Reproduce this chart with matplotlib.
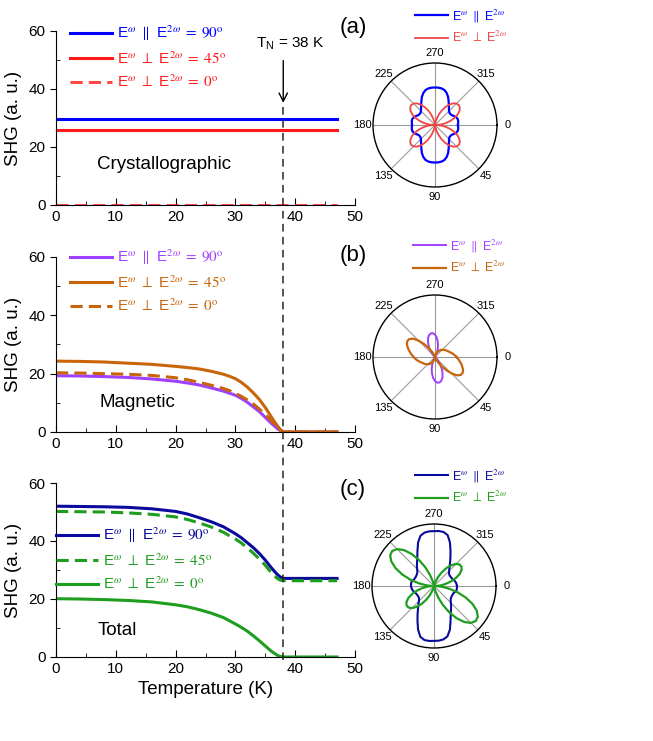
import numpy as np
import matplotlib
matplotlib.use('Agg')
import matplotlib.pyplot as plt
from matplotlib import transforms
from matplotlib.lines import Line2D

plt.rcParams['font.family'] = ['Liberation Sans', 'DejaVu Sans']
plt.rcParams['mathtext.fontset'] = 'stix'

# ---- temperature dependence (K, a.u.) ----
temp = [0, 4, 8, 12, 16, 20, 22, 24, 26, 28, 29, 30, 31, 32, 33, 34, 35, 36, 36.5, 37, 37.5, 38, 47]
temp_flat = [0, 47]

crys_par = [29.7, 29.7]
crys_perp45 = [25.7, 25.7]
crys_perp0 = [0.0, 0.0]

mag_par = [19.3, 19.2, 19.0, 18.7, 18.2, 17.4, 16.8, 16.1, 15.1, 14.0, 13.3, 12.6, 11.5,
           10.2, 8.6, 7.0, 5.0, 3.0, 2.1, 1.2, 0.5, 0.0, 0.0]
mag_perp45 = [24.3, 24.2, 24.0, 23.6, 23.2, 22.5, 22.1, 21.6, 20.8, 19.8, 19.1, 18.3, 17.0,
              15.4, 13.4, 11.2, 8.4, 5.2, 3.6, 2.2, 0.8, 0.0, 0.0]
mag_perp0 = [20.3, 20.2, 20.0, 19.8, 19.4, 18.6, 17.9, 17.0, 16.0, 14.9, 14.2, 13.3, 12.2,
             11.0, 9.6, 7.9, 6.0, 3.9, 2.8, 1.8, 0.8, 0.0, 0.0]

tot_par = [52.0, 51.9, 51.8, 51.6, 51.1, 50.2, 49.3, 48.0, 46.6, 44.9, 43.7, 42.5, 41.1,
           39.4, 37.7, 35.7, 33.4, 30.8, 29.6, 28.5, 27.6, 27.1, 27.1]
tot_perp45 = [50.2, 50.1, 50.0, 49.7, 49.2, 48.3, 47.4, 46.2, 44.8, 43.0, 41.8, 40.7, 39.3,
              37.6, 35.8, 33.8, 31.6, 29.1, 28.0, 27.1, 26.5, 26.3, 26.3]
tot_perp0 = [20.1, 20.0, 19.8, 19.5, 19.0, 18.0, 17.3, 16.3, 15.1, 13.6, 12.5, 11.4, 10.2,
             8.9, 7.3, 5.6, 3.8, 2.0, 1.3, 0.6, 0.2, 0.0, 0.0]

# ---- polar patterns (angle in deg, radius relative to the outer circle) ----
pol_ang = list(range(0, 361, 5))

crys_pol_par = [0.37, 0.375, 0.38, 0.378, 0.365, 0.34, 0.315, 0.305, 0.305, 0.32, 0.35, 0.39,
                0.44, 0.50, 0.55, 0.585, 0.60, 0.605, 0.605, 0.605, 0.60, 0.585, 0.55, 0.50,
                0.44, 0.39, 0.35, 0.32, 0.305, 0.305, 0.315, 0.34, 0.365, 0.378, 0.38, 0.375,
                0.37, 0.375, 0.38, 0.378, 0.365, 0.34, 0.315, 0.305, 0.305, 0.32, 0.35, 0.39,
                0.44, 0.50, 0.55, 0.585, 0.60, 0.605, 0.605, 0.605, 0.60, 0.585, 0.55, 0.50,
                0.44, 0.39, 0.35, 0.32, 0.305, 0.305, 0.315, 0.34, 0.365, 0.378, 0.38, 0.375,
                0.37]
crys_pol_perp = [0.02, 0.10, 0.177, 0.258, 0.335, 0.403, 0.456, 0.489, 0.50, 0.489, 0.456, 0.403,
                 0.335, 0.258, 0.177, 0.10, 0.036, 0.0, 0.0, 0.0, 0.036, 0.10, 0.177, 0.258,
                 0.335, 0.403, 0.456, 0.489, 0.50, 0.489, 0.456, 0.403, 0.335, 0.258, 0.177, 0.10,
                 0.02, 0.10, 0.177, 0.258, 0.335, 0.403, 0.456, 0.489, 0.50, 0.489, 0.456, 0.403,
                 0.335, 0.258, 0.177, 0.10, 0.036, 0.0, 0.0, 0.0, 0.036, 0.10, 0.177, 0.258,
                 0.335, 0.403, 0.456, 0.489, 0.50, 0.489, 0.456, 0.403, 0.335, 0.258, 0.177, 0.10,
                 0.02]

mag_pol_par = [0.0, 0.0, 0.0, 0.0, 0.0, 0.0, 0.0, 0.0, 0.005, 0.032, 0.081, 0.145,
               0.217, 0.289, 0.351, 0.395, 0.418, 0.415, 0.388, 0.339, 0.275, 0.203, 0.132, 0.069,
               0.025, 0.002, 0.0, 0.0, 0.0, 0.0, 0.0, 0.0, 0.0, 0.0, 0.0, 0.0,
               0.0, 0.0, 0.0, 0.0, 0.0, 0.0, 0.0, 0.0, 0.005, 0.030, 0.075, 0.135,
               0.202, 0.268, 0.326, 0.367, 0.388, 0.386, 0.36, 0.315, 0.255, 0.188, 0.122, 0.064,
               0.023, 0.002, 0.0, 0.0, 0.0, 0.0, 0.0, 0.0, 0.0, 0.0, 0.0, 0.0,
               0.0]
mag_pol_perp = [0.345, 0.375, 0.405, 0.44, 0.47, 0.50, 0.515, 0.505, 0.46, 0.37, 0.27, 0.18,
                0.10, 0.04, 0.01, 0.0, 0.0, 0.0, 0.0, 0.005, 0.02, 0.035, 0.06, 0.085,
                0.11, 0.13, 0.15, 0.165, 0.18, 0.195, 0.21, 0.225, 0.245, 0.268, 0.295, 0.32,
                0.345, 0.375, 0.405, 0.44, 0.47, 0.50, 0.515, 0.505, 0.46, 0.37, 0.27, 0.18,
                0.10, 0.04, 0.01, 0.0, 0.0, 0.0, 0.0, 0.005, 0.02, 0.035, 0.06, 0.085,
                0.11, 0.13, 0.15, 0.165, 0.18, 0.195, 0.21, 0.225, 0.245, 0.268, 0.295, 0.32,
                0.345]

tot_pol_par = [0.37, 0.372, 0.37, 0.355, 0.335, 0.33, 0.33, 0.335, 0.35, 0.385, 0.43, 0.475,
               0.54, 0.63, 0.75, 0.84, 0.875, 0.885, 0.885, 0.89, 0.885, 0.85, 0.75, 0.63,
               0.53, 0.45, 0.39, 0.345, 0.315, 0.305, 0.305, 0.31, 0.32, 0.34, 0.355, 0.365,
               0.37, 0.372, 0.37, 0.355, 0.335, 0.33, 0.33, 0.335, 0.35, 0.385, 0.43, 0.475,
               0.54, 0.63, 0.75, 0.84, 0.875, 0.885, 0.885, 0.89, 0.885, 0.85, 0.75, 0.63,
               0.53, 0.45, 0.39, 0.345, 0.315, 0.305, 0.305, 0.31, 0.32, 0.34, 0.355, 0.365,
               0.37]
tot_pol_perp = [0.04, 0.123, 0.247, 0.394, 0.546, 0.686, 0.796, 0.863, 0.879, 0.842, 0.757, 0.633,
                0.486, 0.334, 0.194, 0.084, 0.017, 0.0, 0.0, 0.0, 0.003, 0.032, 0.09, 0.171,
                0.263, 0.357, 0.44, 0.504, 0.539, 0.542, 0.513, 0.455, 0.374, 0.282, 0.188, 0.105,
                0.04, 0.123, 0.247, 0.394, 0.546, 0.686, 0.796, 0.863, 0.879, 0.842, 0.757, 0.633,
                0.486, 0.334, 0.194, 0.084, 0.017, 0.0, 0.0, 0.0, 0.003, 0.032, 0.09, 0.171,
                0.263, 0.357, 0.44, 0.504, 0.539, 0.542, 0.513, 0.455, 0.374, 0.282, 0.188, 0.105,
                0.04]

# colours
c_blue, c_red = '#0000ff', '#ff1a1a'
c_purple, c_orange = '#a040ff', '#c8650a'
c_navy, c_green = '#0a0a9c', '#1e9e1e'

lab_par = r'E$^{\omega}$ $\parallel$ E$^{2\omega}\;=\;90^{\rm o}$'
lab_p45 = r'E$^{\omega}$ $\perp$ E$^{2\omega}\;=\;45^{\rm o}$'
lab_p0 = r'E$^{\omega}$ $\perp$ E$^{2\omega}\;=\;0^{\rm o}$'
pol_par = r'E$^{\omega}$ $\parallel$ E$^{2\omega}$'
pol_perp = r'E$^{\omega}$ $\perp$ E$^{2\omega}$'

W, H = 653, 741
fig = plt.figure(figsize=(W / 100, H / 100), dpi=100)


def px_box(x0, y0, x1, y1):
    return [x0 / W, 1 - y1 / H, (x1 - x0) / W, (y1 - y0) / H]


def style_left(ax):
    ax.set_xlim(0, 50)
    ax.set_ylim(0, 60)
    ax.spines['top'].set_visible(False)
    ax.spines['right'].set_visible(False)
    ax.set_xticks([0, 10, 20, 30, 40, 50])
    ax.set_xticks([5, 15, 25, 35, 45], minor=True)
    ax.set_yticks([0, 20, 40, 60])
    ax.set_yticks([10, 30, 50], minor=True)
    ax.tick_params(axis='x', which='major', direction='in', length=5, labelsize=11)
    ax.tick_params(axis='x', which='minor', direction='in', length=3)
    ax.tick_params(axis='y', which='major', direction='out', length=4, labelsize=11)
    ax.tick_params(axis='y', which='minor', direction='in', length=3)
    ax.set_ylabel('SHG (a. u.)', fontsize=13.5)
    ax.yaxis.set_label_coords(-0.115, 0.5)


def style_polar(ax):
    ax.set_theta_zero_location('E')
    ax.set_theta_direction(-1)
    ax.set_ylim(0, 1)
    ax.set_yticks([])
    ax.set_thetagrids(range(0, 360, 45), labels=[str(a) for a in range(0, 360, 45)], fontsize=8)
    ax.tick_params(axis='x', pad=-3)
    ax.grid(True, axis='x', color='0.6', lw=0.8)
    ax.spines['polar'].set_linewidth(1.0)


def left_legend(ax, x_px, y_px):
    ax.legend(loc='center left', bbox_to_anchor=(x_px / W, 1 - y_px / H),
              bbox_transform=fig.transFigure, frameon=False, fontsize=11,
              handlelength=2.75, handletextpad=0.3, labelspacing=0.45,
              borderpad=0, borderaxespad=0, labelcolor='linecolor')


def polar_legend(ax, x_px, y_px):
    ax.legend(loc='center left', bbox_to_anchor=(x_px / W, 1 - y_px / H),
              bbox_transform=fig.transFigure, frameon=False, fontsize=9,
              handlelength=2.65, handletextpad=0.3, labelspacing=0.5,
              borderpad=0, borderaxespad=0, labelcolor='linecolor')


lw = 2.2
dash = (4, 2)

# (a) crystallographic
ax_a = fig.add_axes(px_box(56, 31, 355, 205))
ax_a.plot(temp_flat, crys_par, color=c_blue, lw=lw, label=lab_par)
ax_a.plot(temp_flat, crys_perp45, color=c_red, lw=lw, label=lab_p45)
ax_a.plot(temp_flat, crys_perp0, color=c_red, lw=lw, dashes=dash, label=lab_p0, alpha=0.8)
style_left(ax_a)
ax_a.text(6.9, 13.8, 'Crystallographic', fontsize=13.5, va='center')
ax_a.text(39.2, 55.6, r'T$_\mathregular{N}$ = 38 K', fontsize=11, ha='center', va='center')
ax_a.annotate('', xy=(38, 35.2), xytext=(38, 49.8),
              arrowprops=dict(arrowstyle='->,head_length=0.6,head_width=0.3',
                              lw=1, color='k', shrinkA=0, shrinkB=0))
left_legend(ax_a, 70, 57)

# (b) magnetic
ax_b = fig.add_axes(px_box(56, 257, 355, 432))
ax_b.plot(temp, mag_par, color=c_purple, lw=lw, label=lab_par)
ax_b.plot(temp, mag_perp45, color=c_orange, lw=lw, label=lab_p45)
ax_b.plot(temp, mag_perp0, color=c_orange, lw=lw, dashes=dash, label=lab_p0)
style_left(ax_b)
ax_b.text(7.2, 10.0, 'Magnetic', fontsize=13.5, va='center')
left_legend(ax_b, 70, 281)

# (c) total
ax_c = fig.add_axes(px_box(56, 483, 355, 657))
ax_c.plot(temp, tot_par, color=c_navy, lw=lw, label=lab_par)
ax_c.plot(temp, tot_perp45, color=c_green, lw=lw, dashes=dash, label=lab_p45)
ax_c.plot(temp, tot_perp0, color=c_green, lw=lw, label=lab_p0)
style_left(ax_c)
ax_c.text(7.0, 9.3, 'Total', fontsize=13.5, va='center')
ax_c.set_xlabel('Temperature (K)', fontsize=13.5)
ax_c.xaxis.set_label_coords(0.5, -0.14)
left_legend(ax_c, 56, 559)

# T_N line across all panels
trans = transforms.blended_transform_factory(ax_c.transData, fig.transFigure)
fig.add_artist(Line2D([38, 38], [1 - 107 / H, 1 - 660 / H], transform=trans,
                      color='0.15', lw=1.1, dashes=(5, 3.5)))

# polar panels
theta = np.radians(pol_ang)
pa = fig.add_axes(px_box(373, 63, 497, 187), projection='polar')
pa.plot(theta, crys_pol_par, color=c_blue, lw=1.6, label=pol_par)
pa.plot(theta, crys_pol_perp, color='#f04545', lw=1.3, label=pol_perp)
style_polar(pa)
polar_legend(pa, 415, 26)

pb = fig.add_axes(px_box(373, 295, 497, 419), projection='polar')
pb.plot(theta, mag_pol_par, color=c_purple, lw=1.4, label=pol_par)
pb.plot(theta, mag_pol_perp, color=c_orange, lw=1.6, label=pol_perp)
style_polar(pb)
polar_legend(pb, 413, 256)

pc = fig.add_axes(px_box(372, 524, 496, 648), projection='polar')
pc.plot(theta, tot_pol_par, color=c_navy, lw=1.5, label=pol_par)
pc.plot(theta, tot_pol_perp, color=c_green, lw=1.6, label=pol_perp)
style_polar(pc)
polar_legend(pc, 415, 486)

# panel tags
for tag, y in [('(a)', 28), ('(b)', 256), ('(c)', 490)]:
    fig.text(353 / W, 1 - y / H, tag, fontsize=16, ha='center', va='center')

fig.savefig('out.png', dpi=100)
